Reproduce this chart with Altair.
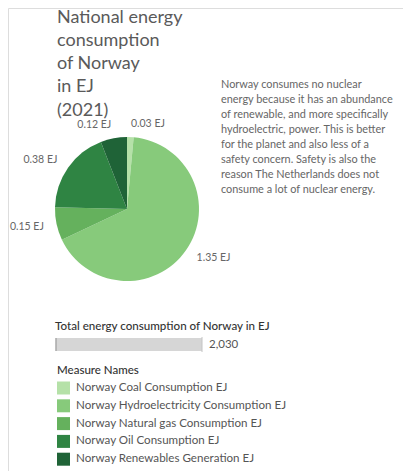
import altair as alt
import pandas as pd

categories = [
    "Norway Coal Consumption EJ",
    "Norway Hydroelectricity Consumption EJ",
    "Norway Natural gas Consumption EJ",
    "Norway Oil Consumption EJ",
    "Norway Renewables Generation EJ",
]
values = [0.03, 1.35, 0.15, 0.38, 0.12]
colors = ["#b5e1a8", "#87ca7b", "#65b15d", "#2f8443", "#1f6337"]
total_label_value = [2030]

title_text = "National energy\nconsumption\nof Norway\nin EJ\n(2021)"
note_text = ("Norway consumes no nuclear\nenergy because it has an abundance\n"
             "of renewable, and more specifically\nhydroelectric, power. This is better\n"
             "for the planet and also less of a\nsafety concern. Safety is also the\n"
             "reason The Netherlands does not\nconsume a lot of nuclear energy.")
bar_title = "Total energy consumption of Norway in EJ"

FONT = "Lato"
CX, CY, R = 119, 201, 72

df = pd.DataFrame({"cat": categories, "value": values, "order": list(range(len(values)))})
df["label"] = [f"{v:.2f} EJ" for v in values]

base = alt.Chart(df).transform_joinaggregate(
    tot="sum(value)"
).transform_window(
    cum="sum(value)", sort=[alt.SortField("order")], frame=[None, 0]
).transform_calculate(
    labelR="(datum.cum - datum.value/2)/datum.tot <= 0.5 ? datum.label : ''",
    labelL="(datum.cum - datum.value/2)/datum.tot > 0.5 ? datum.label : ''",
)

theta = alt.Theta("value:Q", stack=True)
order = alt.Order("order:Q")

pie = base.mark_arc(radius=R, stroke=None).encode(
    theta=theta,
    order=order,
    x=alt.value(CX),
    y=alt.value(CY),
    color=alt.Color(
        "cat:N",
        sort=categories,
        scale=alt.Scale(domain=categories, range=colors),
        legend=alt.Legend(
            title="Measure Names",
            orient="none",
            legendX=49,
            legendY=357,
            symbolType="square",
            symbolSize=169,
            symbolStrokeWidth=0,
            titleFont=FONT,
            titleFontSize=11.5,
            titleFontWeight=500,
            titleColor="#333333",
            labelFont=FONT,
            labelFontSize=11.6,
            labelColor="#555555",
            rowPadding=4.8,
            titlePadding=5,
            labelOffset=6,
            labelLimit=400,
        ),
    ),
)

lab_r = base.mark_text(radius=85, align="left", baseline="middle", font=FONT,
                       fontSize=10.5, color="#666666").encode(
    theta=theta, order=order, x=alt.value(CX), y=alt.value(CY), text="labelR:N"
)
lab_l = base.mark_text(radius=85, align="right", baseline="middle", font=FONT,
                       fontSize=10.5, color="#666666").encode(
    theta=theta, order=order, x=alt.value(CX), y=alt.value(CY), text="labelL:N"
)

one = pd.DataFrame({"zero": [0], "total": total_label_value})
xsc = alt.Scale(domain=[0, total_label_value[0]], range=[48, 194])

bar = alt.Chart(one).mark_rect(color="#d6d6d6").encode(
    x=alt.X("zero:Q", scale=xsc, axis=None),
    x2="total:Q",
    y=alt.value(330),
    y2=alt.value(343),
)
bar_left = alt.Chart(one).mark_rule(color="#a8a8a8", strokeWidth=1.5).encode(
    x=alt.X("zero:Q", scale=xsc, axis=None),
    y=alt.value(330),
    y2=alt.value(343),
)
bar_right = alt.Chart(one).mark_rule(color="#c4c4c4", strokeWidth=1).encode(
    x=alt.X("total:Q", scale=xsc, axis=None),
    y=alt.value(329),
    y2=alt.value(344),
)
bar_txt = alt.Chart(one).mark_text(align="left", baseline="middle", dx=7, font=FONT,
                                  fontSize=11.5, color="#555555").encode(
    x=alt.X("total:Q", scale=xsc, axis=None),
    y=alt.value(337),
    text=alt.Text("total:Q", format=","),
)

title = alt.Chart(one).mark_text(align="left", baseline="top", font=FONT, fontSize=18,
                                 color="#5a5a5a", lineBreak="\n",
                                 lineHeight=23.3).encode(
    x=alt.value(49), y=alt.value(0.5), text=alt.value(title_text)
)
note = alt.Chart(one).mark_text(align="left", baseline="middle", font=FONT, fontSize=10.9,
                                color="#666666", lineBreak="\n", lineHeight=15).encode(
    x=alt.value(213), y=alt.value(77), text=alt.value(note_text)
)
bar_title_m = alt.Chart(one).mark_text(align="left", baseline="middle", font=FONT, fontSize=11.6,
                                       fontWeight=500, color="#333333").encode(
    x=alt.value(47), y=alt.value(319), text=alt.value(bar_title)
)

chart = alt.layer(pie, lab_r, lab_l, bar, bar_left, bar_right, bar_txt, title, note,
                  bar_title_m).resolve_scale(
    x="independent"
).properties(
    width=395, height=463, autosize=alt.AutoSizeParams(type="none"), padding=0
).configure_view(stroke=None).configure(background="white")

chart.save("out.html", embed_options={"renderer": "svg", "actions": False})
